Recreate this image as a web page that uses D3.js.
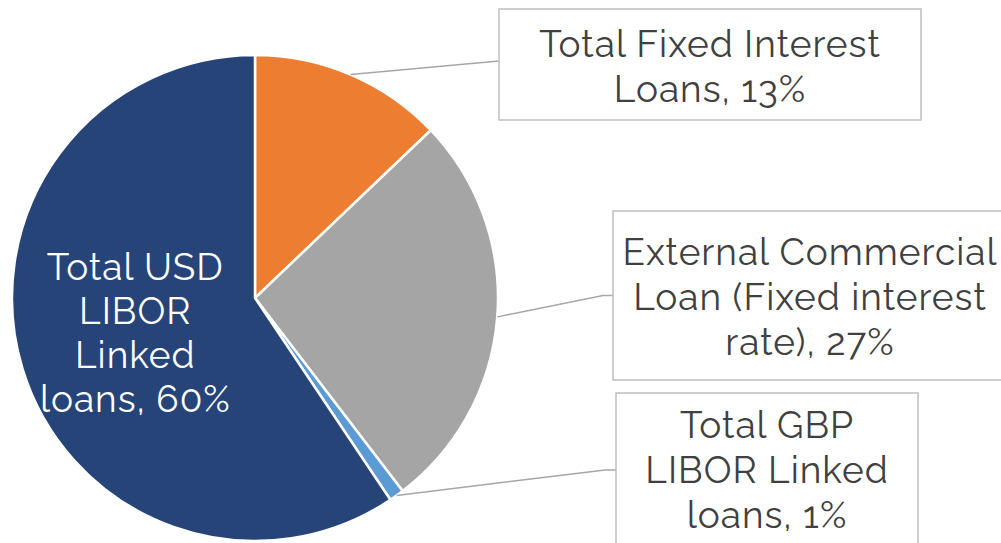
<!DOCTYPE html>
<html>
<head>
<meta charset="utf-8">
<script src="https://cdn.jsdelivr.net/npm/d3@7"></script>
<style>
  html, body { margin: 0; padding: 0; background: #ffffff; }
  svg { display: block; }
  text { font-family: Raleway, Lato, "Open Sans", sans-serif; letter-spacing: 1px; }
</style>
</head>
<body>
<svg id="chart" width="1001" height="543"></svg>
<script>
// Loan portfolio composition (share of total, %)
const categories = [
  "Total Fixed Interest Loans",
  "External Commercial Loan (Fixed interest rate)",
  "Total GBP LIBOR Linked loans",
  "Total USD LIBOR Linked loans"
];
const shares = [13, 27, 1, 60];
const sliceColors = ["#ED7D31", "#A5A5A5", "#5B9BD5", "#264478"];

// Label text, broken into lines as displayed
const labelLines = [
  ["Total Fixed Interest", "Loans, 13%"],
  ["External Commercial", "Loan (Fixed interest", "rate), 27%"],
  ["Total GBP", "LIBOR Linked", "loans, 1%"],
  ["Total USD", "LIBOR", "Linked", "loans, 60%"]
];

const svg = d3.select("#chart");
const cx = 255, cy = 298, R = 243;
const fontSize = 37, lineGap = 45;

const data = categories.map((c, i) => ({ name: c, value: shares[i], color: sliceColors[i], lines: labelLines[i] }));

const pie = d3.pie().sort(null).value(d => d.value).startAngle(0).endAngle(2 * Math.PI);
const arcs = pie(data);
const arc = d3.arc().innerRadius(0).outerRadius(R);

const g = svg.append("g").attr("transform", `translate(${cx},${cy})`);

g.selectAll("path.slice")
  .data(arcs)
  .join("path")
  .attr("class", "slice")
  .attr("d", arc)
  .attr("fill", d => d.data.color)
  .attr("stroke", "#ffffff")
  .attr("stroke-width", 2.5)
  .attr("stroke-linejoin", "round");

// Callout boxes for the three outer labels
const callouts = [
  { i: 0, x: 499, y: 9,   w: 422, h: 111, first: 57,  elbow: null },
  { i: 1, x: 613, y: 211, w: 394, h: 169, first: 265, elbow: 603 },
  { i: 2, x: 616, y: 393, w: 302, h: 154, first: 438, elbow: 605 }
];

const onEdge = a => {
  const p = d3.arc().innerRadius(R).outerRadius(R).centroid(a);
  return [cx + p[0], cy + p[1]];
};

callouts.forEach(c => {
  const a = arcs[c.i];
  const start = onEdge(a);
  const midY = c.y + c.h / 2;
  const pts = c.elbow === null
    ? [start, [c.x, c.y + 52]]
    : [start, [c.elbow, midY], [c.x, midY]];
  svg.append("path")
    .attr("d", d3.line()(pts))
    .attr("fill", "none")
    .attr("stroke", "#A6A6A6")
    .attr("stroke-width", 1.5);

  svg.append("rect")
    .attr("x", c.x).attr("y", c.y)
    .attr("width", c.w).attr("height", c.h)
    .attr("fill", "#ffffff")
    .attr("stroke", "#BFBFBF")
    .attr("stroke-width", 1.5);

  const t = svg.append("text")
    .attr("text-anchor", "middle")
    .attr("font-size", fontSize)
    .attr("fill", "#404040");
  a.data.lines.forEach((ln, k) => {
    t.append("tspan")
      .attr("x", c.x + c.w / 2)
      .attr("y", c.first + k * lineGap)
      .text(ln);
  });
});

// Inside label on the largest slice
const big = arcs[3];
const labelArc = d3.arc().innerRadius(0).outerRadius(R * 1.03);
const cen = labelArc.centroid(big);
const inner = g.append("text")
  .attr("text-anchor", "middle")
  .attr("font-size", fontSize)
  .attr("fill", "#ffffff");
const innerLines = big.data.lines;
const innerGap = 44;
const firstBase = cen[1] - (innerLines.length - 1) * innerGap / 2 + 12;
innerLines.forEach((ln, k) => {
  inner.append("tspan")
    .attr("x", cen[0])
    .attr("y", firstBase + k * innerGap)
    .text(ln);
});
</script>
</body>
</html>
